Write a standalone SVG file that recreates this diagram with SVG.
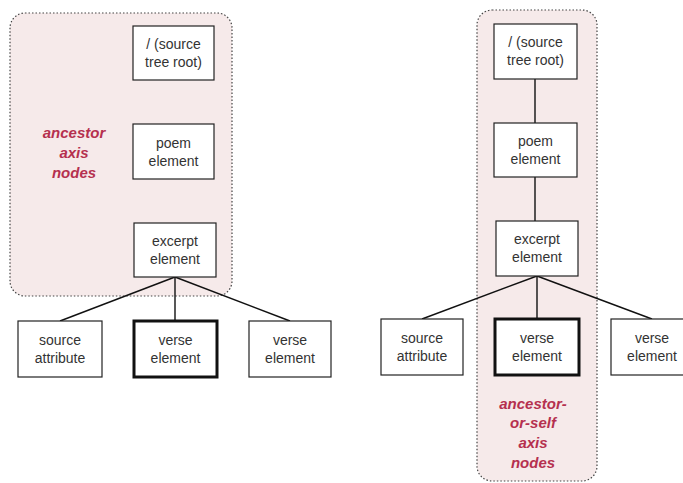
<svg xmlns="http://www.w3.org/2000/svg" width="683" height="483" viewBox="0 0 683 483">
<style>
.grp{fill:#f6eaea;stroke:#444;stroke-width:1.2;stroke-dasharray:1.5 2}
.box{fill:#fff;stroke:#222;stroke-width:1.2}
.bold{fill:#fff;stroke:#111;stroke-width:3}
.t{font-family:"Liberation Sans",Arial,sans-serif;font-size:14px;fill:#333;text-anchor:middle}
.lbl{font-family:"Liberation Sans",Arial,sans-serif;font-size:15px;font-weight:bold;font-style:italic;fill:#b5304f;text-anchor:middle}
.c{stroke:#111;stroke-width:1.4;fill:none}
</style>
<rect id="ancestor-region" class="grp" x="10" y="13" width="222" height="283" rx="15"/>
<rect id="ancestor-or-self-region" class="grp" x="477" y="10" width="120" height="471" rx="15"/>
<g id="connectors">
<line class="c" x1="175" y1="277" x2="60" y2="321"/>
<line class="c" x1="175" y1="277" x2="175" y2="321"/>
<line class="c" x1="175" y1="277" x2="290" y2="321"/>
<line class="c" x1="535" y1="79" x2="535" y2="123"/>
<line class="c" x1="535" y1="177" x2="535" y2="221"/>
<line class="c" x1="537" y1="276" x2="422" y2="319"/>
<line class="c" x1="537" y1="276" x2="537" y2="319"/>
<line class="c" x1="537" y1="276" x2="652" y2="319"/>
</g>
<g id="L-root"><rect class="box" x="133" y="26" width="81" height="54"/><text class="t" x="173.5" y="49">/ (source</text><text class="t" x="173.5" y="67">tree root)</text></g>
<g id="L-poem"><rect class="box" x="133" y="124" width="81" height="55"/><text class="t" x="173.5" y="148">poem</text><text class="t" x="173.5" y="166">element</text></g>
<g id="L-excerpt"><rect class="box" x="134" y="223" width="82" height="54"/><text class="t" x="175" y="246">excerpt</text><text class="t" x="175" y="264">element</text></g>
<g id="L-source"><rect class="box" x="18" y="321" width="84" height="56"/><text class="t" x="60" y="345">source</text><text class="t" x="60" y="363">attribute</text></g>
<g id="L-verse1"><rect class="bold" x="134" y="321" width="83" height="56"/><text class="t" x="175.5" y="345">verse</text><text class="t" x="175.5" y="363">element</text></g>
<g id="L-verse2"><rect class="box" x="249" y="321" width="82" height="56"/><text class="t" x="290" y="345">verse</text><text class="t" x="290" y="363">element</text></g>
<g id="L-label"><text class="lbl" x="74" y="138">ancestor</text><text class="lbl" x="74" y="158">axis</text><text class="lbl" x="74" y="178">nodes</text></g>
<g id="R-root"><rect class="box" x="494" y="24" width="83" height="55"/><text class="t" x="535.5" y="47">/ (source</text><text class="t" x="535.5" y="65">tree root)</text></g>
<g id="R-poem"><rect class="box" x="494" y="123" width="83" height="54"/><text class="t" x="535.5" y="146">poem</text><text class="t" x="535.5" y="164">element</text></g>
<g id="R-excerpt"><rect class="box" x="496" y="221" width="82" height="55"/><text class="t" x="537" y="244">excerpt</text><text class="t" x="537" y="262">element</text></g>
<g id="R-source"><rect class="box" x="381" y="319" width="82" height="56"/><text class="t" x="422" y="343">source</text><text class="t" x="422" y="361">attribute</text></g>
<g id="R-verse1"><rect class="bold" x="495" y="319" width="84" height="56"/><text class="t" x="537" y="343">verse</text><text class="t" x="537" y="361">element</text></g>
<g id="R-verse2"><rect class="box" x="611" y="319" width="82" height="56"/><text class="t" x="652" y="343">verse</text><text class="t" x="652" y="361">element</text></g>
<g id="R-label"><text class="lbl" x="533" y="409">ancestor-</text><text class="lbl" x="533" y="428">or-self</text><text class="lbl" x="533" y="448">axis</text><text class="lbl" x="533" y="468">nodes</text></g>
</svg>
